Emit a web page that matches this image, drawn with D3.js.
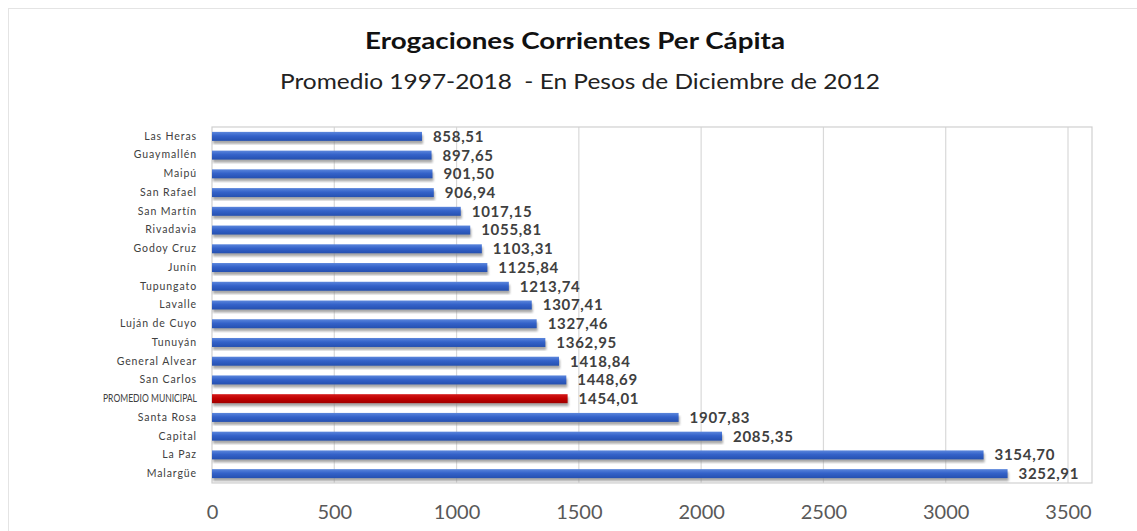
<!DOCTYPE html>
<html>
<head>
<meta charset="utf-8">
<script src="https://cdn.jsdelivr.net/npm/d3@7"></script>
<style>
  body { margin: 0; background: #fff; }
  svg { display: block; }
</style>
</head>
<body>
<div id="chart"></div>
<script>
// municipios, ordered top to bottom as in the chart
const municipios = ["Las Heras", "Guaymallén", "Maipú", "San Rafael", "San Martín", "Rivadavia",
    "Godoy Cruz", "Junín", "Tupungato", "Lavalle", "Luján de Cuyo", "Tunuyán", "General Alvear",
    "San Carlos", "PROMEDIO MUNICIPAL", "Santa Rosa", "Capital", "La Paz", "Malargüe"];
const erogaciones = [858.51, 897.65, 901.50, 906.94, 1017.15, 1055.81, 1103.31, 1125.84, 1213.74,
    1307.41, 1327.46, 1362.95, 1418.84, 1448.69, 1454.01, 1907.83, 2085.35, 3154.70, 3252.91];
const xTicks = [0, 500, 1000, 1500, 2000, 2500, 3000, 3500];
const promedio = "PROMEDIO MUNICIPAL";

const width = 1137, height = 531;
const plot = { left: 212, right: 1092, top: 127, bottom: 483 };
const font = "Lato, 'Liberation Sans', sans-serif";

const data = municipios.map((name, i) => ({ name, value: erogaciones[i] }));

const svg = d3.select("#chart")
    .append("svg")
    .attr("width", width)
    .attr("height", height);

const defs = svg.append("defs");
const blue = defs.append("linearGradient").attr("id", "blue").attr("x1", 0).attr("y1", 0).attr("x2", 0).attr("y2", 1);
blue.append("stop").attr("offset", "0%").attr("stop-color", "#5b86dc");
blue.append("stop").attr("offset", "45%").attr("stop-color", "#3462c9");
blue.append("stop").attr("offset", "100%").attr("stop-color", "#2550b0");
const red = defs.append("linearGradient").attr("id", "red").attr("x1", 0).attr("y1", 0).attr("x2", 0).attr("y2", 1);
red.append("stop").attr("offset", "0%").attr("stop-color", "#d41a1a");
red.append("stop").attr("offset", "50%").attr("stop-color", "#c00000");
red.append("stop").attr("offset", "100%").attr("stop-color", "#a00000");
defs.append("filter").attr("id", "blur")
    .append("feGaussianBlur").attr("stdDeviation", 1.2);

// outer chart frame
svg.append("rect")
    .attr("x", 8.5).attr("y", 8.5)
    .attr("width", width).attr("height", height)
    .attr("fill", "none").attr("stroke", "#e4e4e4");

// titles (the source image is stretched sideways, hence textLength)
svg.append("text")
    .attr("x", 575).attr("y", 49)
    .attr("text-anchor", "middle")
    .attr("textLength", 420).attr("lengthAdjust", "spacingAndGlyphs")
    .style("font-family", font)
    .style("font-weight", "bold").style("font-size", "22px")
    .attr("fill", "#111")
    .text("Erogaciones Corrientes Per Cápita");

svg.append("text")
    .attr("x", 580).attr("y", 89)
    .attr("text-anchor", "middle")
    .attr("textLength", 600).attr("lengthAdjust", "spacingAndGlyphs")
    .style("font-family", font)
    .style("font-size", "21px")
    .attr("fill", "#222")
    .attr("xml:space", "preserve")
    .text("Promedio 1997-2018  - En Pesos de Diciembre de 2012");

// scales
const x = d3.scaleLinear()
    .domain([0, 3500])
    .range([plot.left, 1068]);

const y = d3.scaleBand()
    .domain(municipios)
    .range([plot.top, plot.bottom])
    .paddingInner(0.52)
    .paddingOuter(0.26);

// gridlines
svg.append("g")
    .selectAll("line")
    .data(xTicks.slice(1))
    .enter().append("line")
    .attr("x1", d => x(d)).attr("x2", d => x(d))
    .attr("y1", plot.top).attr("y2", plot.bottom)
    .attr("stroke", "#d9d9d9").attr("stroke-width", 1.2);

// plot frame
svg.append("rect")
    .attr("x", plot.left).attr("y", plot.top)
    .attr("width", plot.right - plot.left).attr("height", plot.bottom - plot.top)
    .attr("fill", "none").attr("stroke", "#d0d0d0").attr("stroke-width", 1.2);

// bar shadows
svg.append("g")
    .selectAll("rect")
    .data(data)
    .enter().append("rect")
    .attr("x", x(0) + 1)
    .attr("y", d => y(d.name) + 3)
    .attr("width", d => x(d.value) - x(0))
    .attr("height", y.bandwidth())
    .attr("fill", "#8a8a8a")
    .attr("opacity", 0.75)
    .attr("filter", "url(#blur)");

// bars
svg.append("g")
    .selectAll("rect")
    .data(data)
    .enter().append("rect")
    .attr("x", x(0))
    .attr("y", d => y(d.name))
    .attr("width", d => x(d.value) - x(0))
    .attr("height", y.bandwidth())
    .attr("fill", d => d.name === promedio ? "url(#red)" : "url(#blue)");

// value labels
const fmt = v => v.toFixed(2).replace(".", ",");
svg.append("g")
    .selectAll("text")
    .data(data)
    .enter().append("text")
    .attr("x", d => x(d.value) + 11)
    .attr("y", d => y(d.name) + y.bandwidth() / 2)
    .attr("dy", "0.36em")
    .style("font-family", font)
    .style("font-weight", "bold").style("font-size", "15px")
    .style("letter-spacing", "0.7px")
    .attr("fill", "#404040")
    .text(d => fmt(d.value));

// category axis
const yAxis = svg.append("g")
    .attr("transform", "translate(" + (plot.left - 15) + ",0)")
    .call(d3.axisLeft(y).tickSize(0).tickPadding(0));
yAxis.select(".domain").remove();
yAxis.selectAll("text")
    .style("font-family", font)
    .style("font-size", "10.5px")
    .style("letter-spacing", "0.9px")
    .attr("fill", "#404040");
yAxis.selectAll("text")
    .filter(d => d === promedio)
    .style("letter-spacing", "0px")
    .attr("textLength", 94).attr("lengthAdjust", "spacingAndGlyphs");

// value axis
const xAxis = svg.append("g")
    .attr("transform", "translate(0," + plot.bottom + ")")
    .call(d3.axisBottom(x).tickValues(xTicks).tickFormat(d3.format("d")).tickSize(0).tickPadding(22));
xAxis.select(".domain").remove();
xAxis.selectAll("text")
    .style("font-family", font)
    .style("font-size", "20px")
    .attr("fill", "#595959");
</script>
</body>
</html>
